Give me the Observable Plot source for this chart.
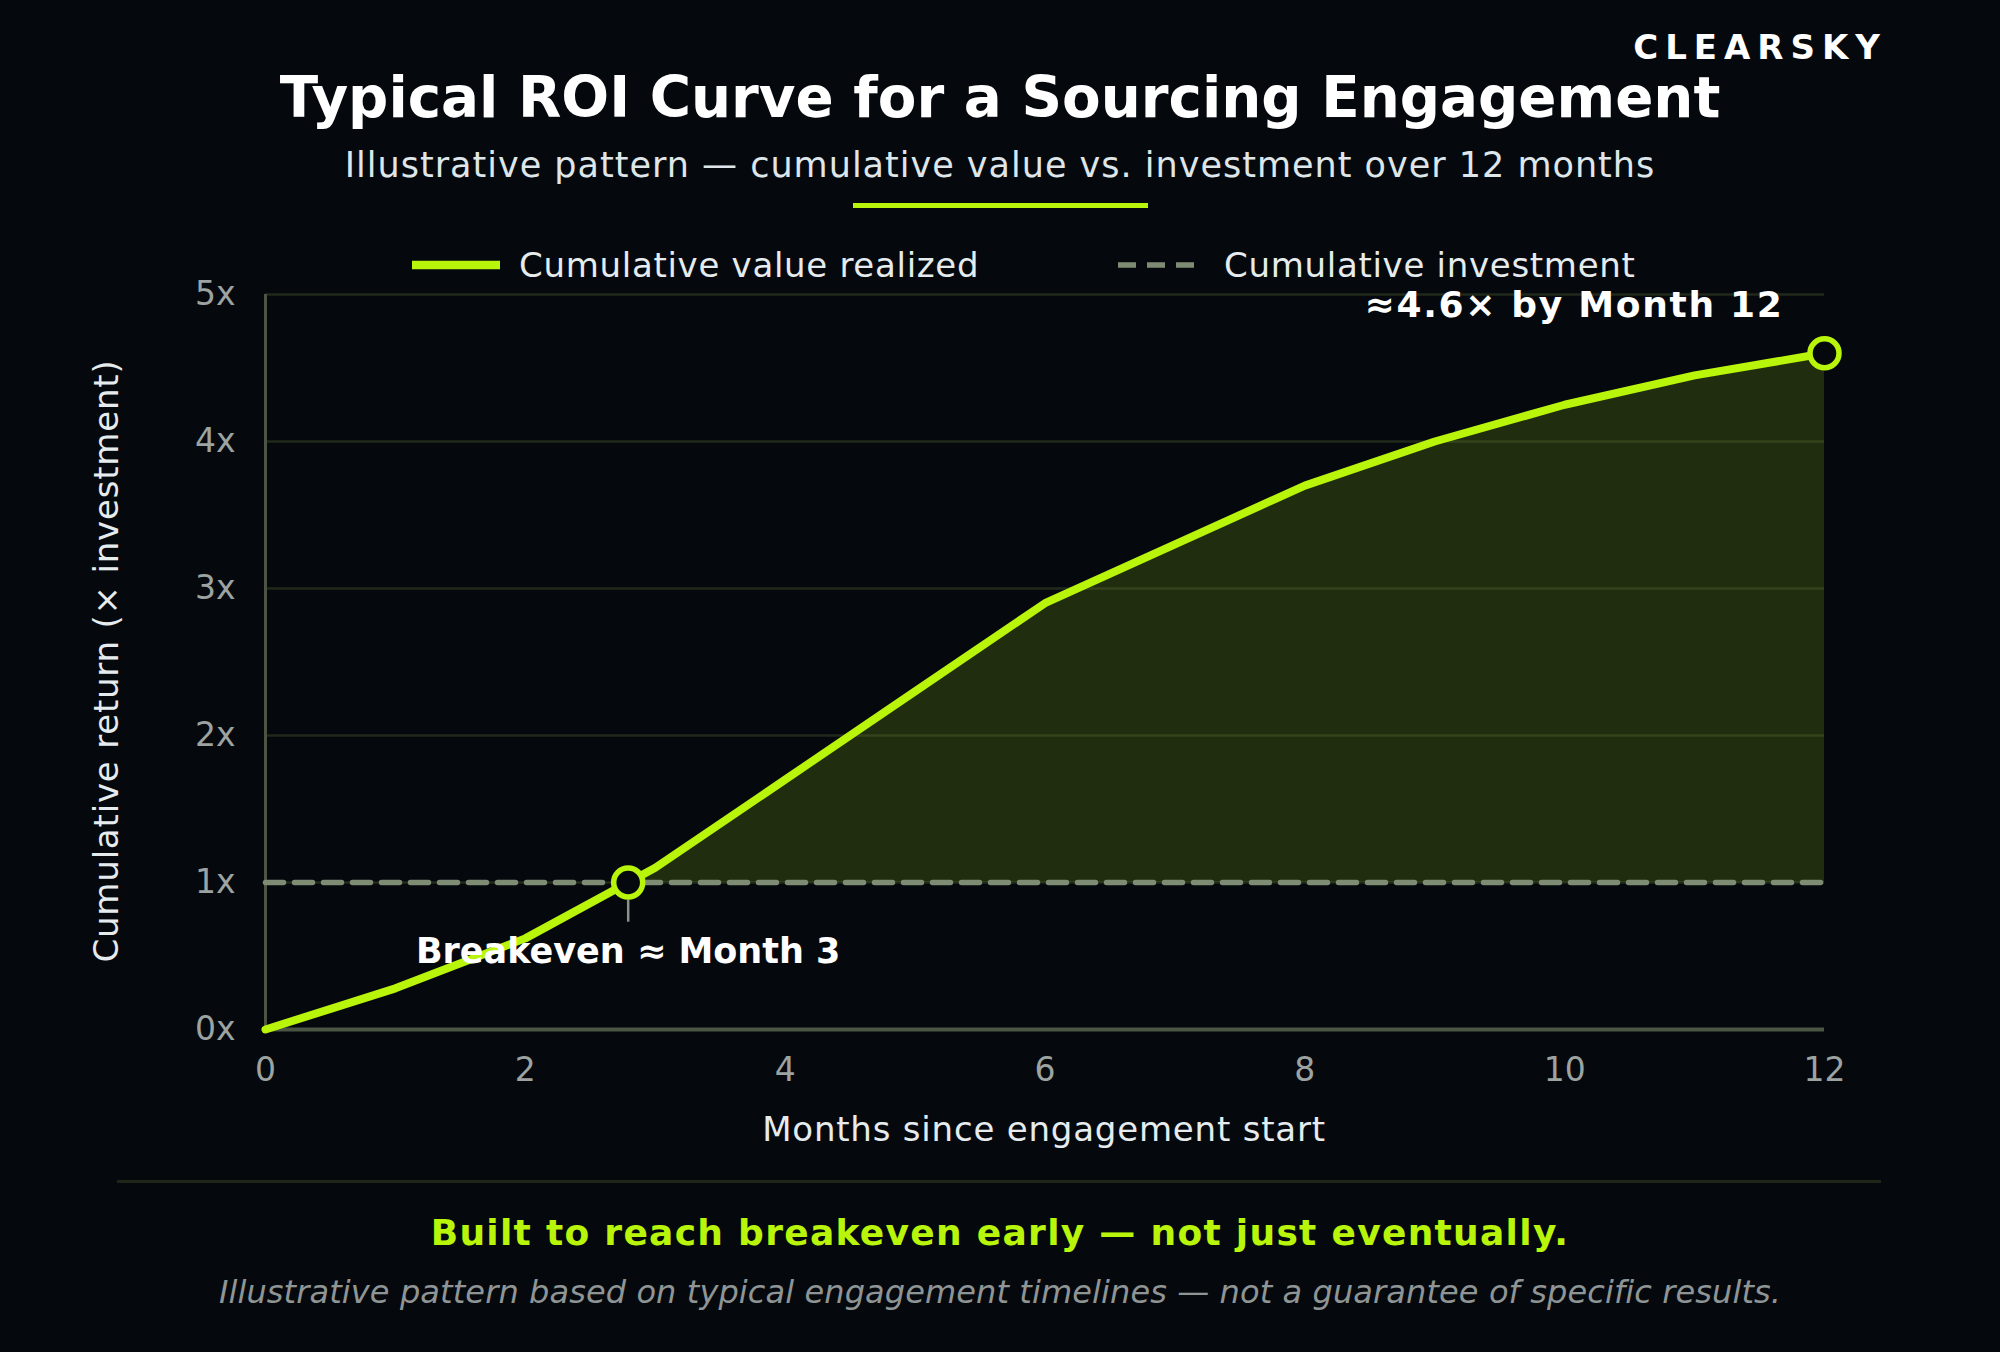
<!DOCTYPE html>
<html>
<head>
<meta charset="utf-8">
<script src="https://cdn.jsdelivr.net/npm/d3@7"></script>
<script src="https://cdn.jsdelivr.net/npm/@observablehq/plot@0.6"></script>
<style>
  html, body { margin: 0; padding: 0; background: #05090e; }
  #wrap { position: relative; width: 2000px; height: 1352px; overflow: hidden; background: #05090e; font-family: "DejaVu Sans", sans-serif; }
  .t { position: absolute; line-height: 1; white-space: nowrap; }
  #plot { position: absolute; left: 0; top: 230px; }
</style>
</head>
<body>
<div id="wrap"><div id="plot"></div></div>
<script>
// ---- data ----
const months = [0, 1, 2, 3, 4, 5, 6, 7, 8, 9, 10, 11, 12];
const valueRealized = [0, 0.28, 0.62, 1.1, 1.7, 2.3, 2.9, 3.3, 3.7, 4.0, 4.25, 4.45, 4.6];
const investment = [1, 1, 1, 1, 1, 1, 1, 1, 1, 1, 1, 1, 1];
const xTicks = [0, 2, 4, 6, 8, 10, 12];
const yTicks = [0, 1, 2, 3, 4, 5];
const yTickLabels = ["0x", "1x", "2x", "3x", "4x", "5x"];
const seriesNames = ["Cumulative value realized", "Cumulative investment"];
const breakevenLabel = "Breakeven ≈ Month 3";
const endLabel = "≈4.6× by Month 12";

// ---- derived ----
const rows = months.map((m, i) => ({month: m, value: valueRealized[i], invest: investment[i]}));
let be = null;
for (let i = 1; i < rows.length; i++) {
  const a = rows[i - 1], b = rows[i];
  if (a.value < a.invest && b.value >= b.invest) {
    const t = (a.invest - a.value) / ((b.value - a.value) - (b.invest - a.invest));
    be = {month: a.month + t * (b.month - a.month), value: a.invest + t * (b.invest - a.invest), invest: a.invest};
    break;
  }
}
const areaRows = [be, ...rows.filter(r => r.month > be.month)];
const last = rows[rows.length - 1];

const GREEN = "#b8f50a";
const BG = "#05090e";

const chart = Plot.plot({
  width: 2000,
  height: 930,
  marginLeft: 265,
  marginRight: 176,
  marginTop: 64,
  marginBottom: 131,
  x: {domain: [0, 12]},
  y: {domain: [0, 5]},
  style: {background: "transparent", fontFamily: "DejaVu Sans, sans-serif", overflow: "visible"},
  marks: [
    Plot.areaY(areaRows, {x: "month", y1: "invest", y2: "value", fill: "#212d0f"}),
    Plot.ruleY(yTicks.slice(1), {stroke: "#6b8040", strokeOpacity: 0.27, strokeWidth: 2.5}),
    Plot.ruleX([0], {y1: 0, y2: 5, stroke: "#4a5543", strokeWidth: 3}),
    Plot.ruleY([0], {stroke: "#4a5543", strokeWidth: 4}),
    Plot.line(rows, {x: "month", y: "invest", stroke: "#7f8c74", strokeWidth: 5.5, strokeDasharray: "18,11"}),
    Plot.line(rows, {x: "month", y: "value", stroke: GREEN, strokeWidth: 8, strokeLinejoin: "round", strokeLinecap: "round"}),
    Plot.ruleX([be], {x: "month", y1: d => d.value - 0.12, y2: d => d.value - 0.27, stroke: "#8b928c", strokeWidth: 2.5}),
    Plot.dot([be, last], {x: "month", y: "value", r: 14.5, fill: BG, stroke: GREEN, strokeWidth: 5.5}),
    Plot.text([be], {x: "month", y: "value", text: () => breakevenLabel, dy: 69, fontSize: 35, fontWeight: "bold", fill: "#ffffff", textAnchor: "middle"}),
    Plot.text([last], {x: "month", y: "value", text: () => endLabel, dx: -41, dy: -48, fontSize: 36, fontWeight: "bold", fill: "#ffffff", textAnchor: "end"}),
    Plot.axisX({ticks: xTicks, tickSize: 0, tickPadding: 28, fontSize: 33, fill: "#9ca3a0", label: null}),
    Plot.axisY({ticks: yTicks, tickFormat: d => yTickLabels[yTicks.indexOf(d)], tickSize: 0, tickPadding: 30, fontSize: 33, fill: "#9ca3a0", label: null})
  ]
});
d3.select(chart).selectAll("text").filter(function() { return this.textContent === endLabel; })
  .style("letter-spacing", "1.7px");
document.getElementById("plot").appendChild(chart);

// ---- text overlay ----
const wrap = document.getElementById("wrap");
function addText(txt, o) {
  const d = document.createElement("div");
  d.className = "t";
  d.textContent = txt;
  d.style.fontSize = o.fs + "px";
  d.style.top = (o.baseline - 0.846 * o.fs) + "px";
  d.style.color = o.color || "#ffffff";
  if (o.weight) d.style.fontWeight = o.weight;
  if (o.style) d.style.fontStyle = o.style;
  if (o.ls) d.style.letterSpacing = o.ls + "px";
  if (o.anchor === "end") { d.style.right = (2000 - o.x) + "px"; }
  else if (o.anchor === "start") { d.style.left = o.x + "px"; }
  else { d.style.left = o.x + "px"; d.style.transform = "translateX(-50%)"; }
  wrap.appendChild(d);
  return d;
}
addText("CLEARSKY", {x: 1887, baseline: 59, fs: 34, weight: "bold", ls: 7, anchor: "end"});
addText("Typical ROI Curve for a Sourcing Engagement", {x: 1000, baseline: 118, fs: 56.3, weight: "bold"});
addText("Illustrative pattern — cumulative value vs. investment over 12 months", {x: 1000, baseline: 178, fs: 35, ls: 1, color: "#dfe6ea"});

const ul = document.createElement("div");
ul.style.cssText = "position:absolute;left:853px;top:203px;width:295px;height:5px;background:" + GREEN;
wrap.appendChild(ul);

// legend
function swatch(x, dashed, color) {
  const s = document.createElementNS("http://www.w3.org/2000/svg", "svg");
  s.setAttribute("width", 100); s.setAttribute("height", 20);
  s.style.cssText = "position:absolute;left:" + x + "px;top:255px;";
  const l = document.createElementNS("http://www.w3.org/2000/svg", "line");
  l.setAttribute("x1", 0); l.setAttribute("x2", dashed ? 76 : 88);
  l.setAttribute("y1", 10); l.setAttribute("y2", 10);
  l.setAttribute("stroke", color);
  l.setAttribute("stroke-width", dashed ? 5.5 : 8.5);
  if (dashed) l.setAttribute("stroke-dasharray", "18,11");
  s.appendChild(l);
  wrap.appendChild(s);
}
swatch(412, false, GREEN);
addText(seriesNames[0], {x: 519, baseline: 277, fs: 34, ls: 0.7, color: "#e6ecee", anchor: "start"});
swatch(1118, true, "#7f8c74");
addText(seriesNames[1], {x: 1224, baseline: 277, fs: 34, ls: 0.7, color: "#e6ecee", anchor: "start"});

// axis labels
addText("Months since engagement start", {x: 1044, baseline: 1141, fs: 34, ls: 0.8, color: "#e6ecee"});
const yl = addText("Cumulative return (× investment)", {x: 0, baseline: 0, fs: 34, ls: 0.8, color: "#e6ecee", anchor: "start"});
yl.style.left = "106px"; yl.style.top = "661px";
yl.style.transform = "translate(-50%, -50%) rotate(-90deg)";

// footer
const sep = document.createElement("div");
sep.style.cssText = "position:absolute;left:117px;top:1180px;width:1764px;height:3px;background:#1d2617";
wrap.appendChild(sep);
addText("Built to reach breakeven early — not just eventually.", {x: 1000, baseline: 1245, fs: 36, ls: 1.3, weight: "bold", color: GREEN});
addText("Illustrative pattern based on typical engagement timelines — not a guarantee of specific results.", {x: 1000, baseline: 1303, fs: 32, ls: 0.1, style: "italic", color: "#8f9595"});
</script>
</body>
</html>
